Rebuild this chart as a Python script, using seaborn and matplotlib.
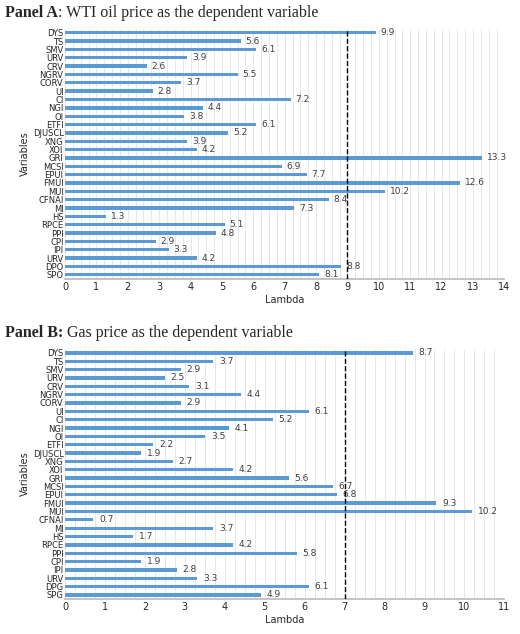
import matplotlib
matplotlib.use("Agg")
import matplotlib.pyplot as plt
import numpy as np
import pandas as pd
import seaborn as sns

sns.set_theme(style="white")
plt.rcParams["font.family"] = ["DejaVu Sans"]

labels_a = ["DYS", "TS", "SMV", "URV", "CRV", "NGRV", "CORV", "UI", "CI", "NGI", "OI", "ETFI",
            "DJUSCL", "XNG", "XOI", "GRI", "MCSI", "EPUI", "FMUI", "MUI", "CFNAI", "MI", "HS",
            "RPCE", "PPI", "CPI", "IPI", "URV", "DPO", "SPO"]
values_a = [9.9, 5.6, 6.1, 3.9, 2.6, 5.5, 3.7, 2.8, 7.2, 4.4, 3.8, 6.1, 5.2, 3.9, 4.2, 13.3,
            6.9, 7.7, 12.6, 10.2, 8.4, 7.3, 1.3, 5.1, 4.8, 2.9, 3.3, 4.2, 8.8, 8.1]
labels_b = ["DYS", "TS", "SMV", "URV", "CRV", "NGRV", "CORV", "UI", "CI", "NGI", "OI", "ETFI",
            "DJUSCL", "XNG", "XOI", "GRI", "MCSI", "EPUI", "FMUI", "MUI", "CFNAI", "MI", "HS",
            "RPCE", "PPI", "CPI", "IPI", "URV", "DPG", "SPG"]
values_b = [8.7, 3.7, 2.9, 2.5, 3.1, 4.4, 2.9, 6.1, 5.2, 4.1, 3.5, 2.2, 1.9, 2.7, 4.2, 5.6,
            6.7, 6.8, 9.3, 10.2, 0.7, 3.7, 1.7, 4.2, 5.8, 1.9, 2.8, 3.3, 6.1, 4.9]

BLUE = "#5B9BD5"
fig = plt.figure(figsize=(5.2, 6.34), dpi=100)


def panel(rect, labels, values, xmax, cutoff):
    ax = fig.add_axes(rect)
    df = pd.DataFrame({"slot": [f"{i:02d}" for i in range(len(labels))], "lam": values})
    sns.barplot(data=df, x="lam", y="slot", orient="h", color=BLUE, width=0.4,
                saturation=1, linewidth=0, ax=ax, zorder=3)
    ax.set_yticks(range(len(labels)))
    ax.set_yticklabels(labels, fontsize=6)
    ax.set_xlim(0, xmax)
    ax.set_xticks(range(0, xmax + 1))
    ax.tick_params(axis="x", labelsize=7, length=0, pad=2)
    ax.tick_params(axis="y", length=0, pad=1)
    ax.set_xticks(np.arange(0, xmax, 0.25), minor=True)
    ax.grid(axis="x", which="both", color="#dddddd", linewidth=0.5, zorder=0)
    for v, i in zip(values, range(len(values))):
        ax.text(v + 0.15, i, f"{v}", va="center", fontsize=6.5, color="#404040")
    ax.axvline(cutoff, color="black", linestyle="--", linewidth=1, zorder=4)
    ax.set_xlabel("Lambda", fontsize=7, labelpad=2)
    ax.set_ylabel("Variables", fontsize=7, labelpad=2)
    for s in ["top", "right", "left"]:
        ax.spines[s].set_visible(False)
    ax.spines["bottom"].set_color("#bbbbbb")
    return ax


panel([0.125, 0.56, 0.845, 0.395], labels_a, values_a, 14, 9)
panel([0.125, 0.055, 0.845, 0.395], labels_b, values_b, 11, 7)

serif = "Liberation Serif"
ta = fig.text(0.01, 0.992, "Panel A", fontsize=11.5, fontweight="bold", family=serif, va="top")
fig.text(0, 0, ": WTI oil price as the dependent variable", fontsize=11.5, family=serif,
         transform=matplotlib.transforms.offset_copy(ta.get_transform(), fig=fig, x=0, y=0),
         alpha=0)
plt.annotate(": WTI oil price as the dependent variable", xy=(1, 0), xycoords=ta,
             fontsize=11.5, family=serif, va="bottom")
tb = fig.text(0.01, 0.487, "Panel B:", fontsize=11.5, fontweight="bold", family=serif, va="top")
plt.annotate(" Gas price as the dependent variable", xy=(1, 0), xycoords=tb,
             fontsize=11.5, family=serif, va="bottom")

fig.savefig("out.png", dpi=100)
